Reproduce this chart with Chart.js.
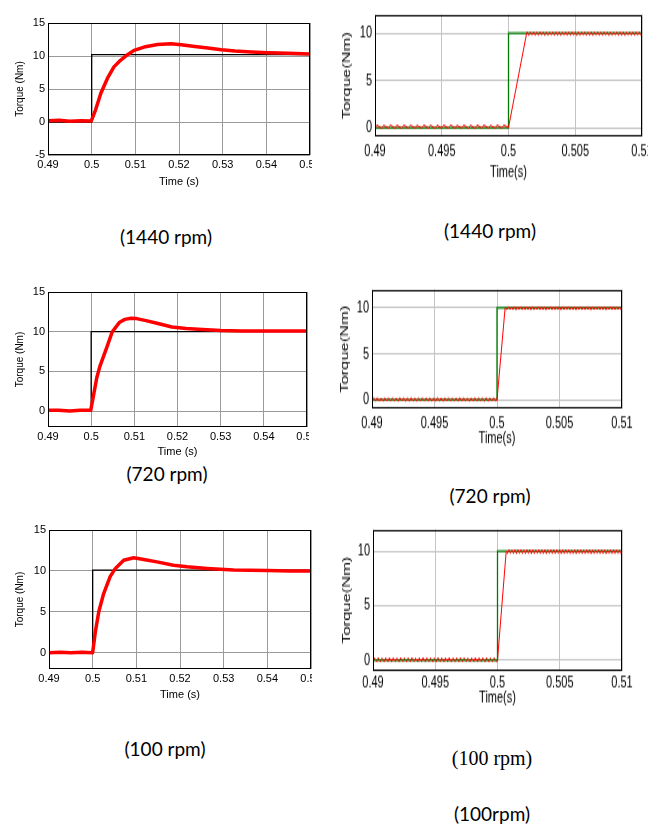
<!DOCTYPE html>
<html>
<head>
<meta charset="utf-8">
<script src="https://cdn.jsdelivr.net/npm/chart.js@4.4.0/dist/chart.umd.min.js"></script>
<style>
  body { margin: 0; background: #fff; width: 663px; height: 825px; position: relative; overflow: hidden; }
  .panel { position: absolute; overflow: hidden; }
  .panel canvas { position: absolute; left: 0; top: 0; transform-origin: 0 0; }
  .cap { position: absolute; transform: translate(-50%, -50%); white-space: nowrap;
         font-family: Lato, "Open Sans", sans-serif; font-size: 19px; color: #000; }
  .serif { font-family: "Liberation Serif", "DejaVu Serif", serif; font-size: 20px; }
</style>
</head>
<body>

<div class="cap" style="left:166px;top:236px">(1440 rpm)</div>
<div class="cap" style="left:490px;top:230px">(1440 rpm)</div>
<div class="cap" style="left:167px;top:473px">(720 rpm)</div>
<div class="cap" style="left:490px;top:495px">(720 rpm)</div>
<div class="cap" style="left:165px;top:748px">(100 rpm)</div>
<div class="cap serif" style="left:492px;top:758px">(100 rpm)</div>
<div class="cap" style="left:492px;top:813px">(100rpm)</div>

<script>
// ---- left column: 0.49 .. 0.55 s, thick noisy red response + black reference ----
const leftXTicks = [0.49, 0.5, 0.51, 0.52, 0.53, 0.54, 0.55];
const leftXLabels = ['0.49', '0.5', '0.51', '0.52', '0.53', '0.54', '0.55'];
const leftYTicksA = [-5, 0, 5, 10, 15];
const leftYTicksB = [0, 5, 10, 15];
const refTimeLeft = [0.49, 0.5, 0.5, 0.55];

// 1440 rpm
const p1Time = [0.49, 0.4925, 0.495, 0.4975, 0.4999, 0.5009, 0.5021, 0.5036, 0.5051, 0.5066, 0.5082, 0.5097,
  0.512, 0.5151, 0.5182, 0.5205, 0.5236, 0.5266, 0.5297, 0.5328, 0.5366, 0.5404, 0.545, 0.55];
const p1Torque = [0.2, 0.25, 0.1, 0.2, 0.15, 1.85, 4.35, 6.6, 8.35, 9.35, 10.2, 10.85,
  11.35, 11.75, 11.85, 11.7, 11.45, 11.2, 10.95, 10.75, 10.6, 10.5, 10.4, 10.3];
const p1Ref = [0, 0, 10.2, 10.2];

// 720 rpm
const p3Time = [0.49, 0.4925, 0.495, 0.4975, 0.4999, 0.5013, 0.502, 0.5036, 0.5049, 0.5066, 0.5078, 0.5092,
  0.5105, 0.5127, 0.515, 0.5187, 0.522, 0.5248, 0.53, 0.535, 0.54, 0.545, 0.55];
const p3Torque = [0.1, 0.1, 0.0, 0.1, 0.1, 4.2, 5.6, 8.0, 10.0, 11.2, 11.55, 11.7,
  11.65, 11.4, 11.1, 10.6, 10.4, 10.3, 10.15, 10.1, 10.1, 10.1, 10.1];
const p3Ref = [0, 0, 10, 10];

// 100 rpm
const p5Time = [0.49, 0.4925, 0.495, 0.4975, 0.5, 0.5006, 0.5014, 0.5025, 0.504, 0.5052, 0.5071, 0.5094,
  0.5117, 0.5147, 0.5185, 0.5216, 0.5262, 0.5323, 0.54, 0.545, 0.55];
const p5Torque = [0.0, 0.05, 0.0, 0.05, 0.0, 2.5, 5.0, 7.2, 9.3, 10.3, 11.3, 11.6,
  11.4, 11.1, 10.7, 10.5, 10.3, 10.1, 10.05, 10.0, 10.0];
const p5Ref = [0, 0, 10.1, 10.1];

// ---- right column: 0.49 .. 0.51 s, thin red rippled response + green reference ----
const rightXTicks = [0.49, 0.495, 0.5, 0.505, 0.51];
const rightXLabels = ['0.49', '0.495', '0.5', '0.505', '0.51'];
const rightYTicks = [0, 5, 10];
const refTimeRight = [0.49, 0.5, 0.5, 0.51];
const refTorqueRight = [0, 0, 10, 10];

// ripple before the step, 1440 rpm
const preTimeA = [0.49, 0.49015, 0.4905, 0.49065, 0.491, 0.49115, 0.4915, 0.49165, 0.492, 0.49215,
  0.4925, 0.49265, 0.493, 0.49315, 0.4935, 0.49365, 0.494, 0.49415, 0.4945, 0.49465,
  0.495, 0.49515, 0.4955, 0.49565, 0.496, 0.49615, 0.4965, 0.49665, 0.497, 0.49715,
  0.4975, 0.49765, 0.498, 0.49815, 0.4985, 0.49865, 0.499, 0.49915, 0.4995, 0.49965, 0.5];
const preTorqueA = [-0.05, 0.25, -0.08, 0.22, -0.04, 0.26, -0.06, 0.24, -0.08, 0.25,
  -0.05, 0.24, -0.04, 0.22, -0.06, 0.26, -0.05, 0.25, -0.08, 0.24,
  -0.05, 0.25, -0.06, 0.26, -0.04, 0.22, -0.05, 0.25, -0.06, 0.24,
  -0.08, 0.26, -0.05, 0.25, -0.04, 0.22, -0.06, 0.25, -0.05, 0.25, 0];

// ripple before the step, 720 and 100 rpm
const preTimeB = [0.49, 0.49012, 0.4903, 0.49042, 0.4906, 0.49072, 0.4909, 0.49102, 0.4912, 0.49132,
  0.4915, 0.49162, 0.4918, 0.49192, 0.4921, 0.49222, 0.4924, 0.49252, 0.4927, 0.49282,
  0.493, 0.49312, 0.4933, 0.49342, 0.4936, 0.49372, 0.4939, 0.49402, 0.4942, 0.49432,
  0.4945, 0.49462, 0.4948, 0.49492, 0.4951, 0.49522, 0.4954, 0.49552, 0.4957, 0.49582,
  0.496, 0.49612, 0.4963, 0.49642, 0.4966, 0.49672, 0.4969, 0.49702, 0.4972, 0.49732,
  0.4975, 0.49762, 0.4978, 0.49792, 0.4981, 0.49822, 0.4984, 0.49852, 0.4987, 0.49882,
  0.499, 0.49912, 0.4993, 0.49942, 0.4996, 0.49972, 0.4999, 0.5];
const preTorqueB = [-0.15, 0.2, -0.12, 0.22, -0.15, 0.18, -0.14, 0.2, -0.12, 0.22,
  -0.15, 0.2, -0.13, 0.18, -0.15, 0.22, -0.12, 0.2, -0.15, 0.2,
  -0.14, 0.22, -0.12, 0.18, -0.15, 0.2, -0.13, 0.22, -0.15, 0.2,
  -0.12, 0.2, -0.15, 0.18, -0.14, 0.22, -0.12, 0.2, -0.15, 0.2,
  -0.13, 0.22, -0.15, 0.18, -0.12, 0.2, -0.15, 0.22, -0.14, 0.2,
  -0.12, 0.18, -0.15, 0.2, -0.13, 0.22, -0.15, 0.2, -0.12, 0.2,
  -0.15, 0.22, -0.14, 0.18, -0.12, 0.2, -0.1, 0];

// ripple after the step (all speeds)
const postTime = [0.5008, 0.50092, 0.50104, 0.50116, 0.50128, 0.5014, 0.50152, 0.50164, 0.50176, 0.50188,
  0.502, 0.50212, 0.50224, 0.50236, 0.50248, 0.5026, 0.50272, 0.50284, 0.50296, 0.50308,
  0.5032, 0.50332, 0.50344, 0.50356, 0.50368, 0.5038, 0.50392, 0.50404, 0.50416, 0.50428,
  0.5044, 0.50452, 0.50464, 0.50476, 0.50488, 0.505, 0.50512, 0.50524, 0.50536, 0.50548,
  0.5056, 0.50572, 0.50584, 0.50596, 0.50608, 0.5062, 0.50632, 0.50644, 0.50656, 0.50668,
  0.5068, 0.50692, 0.50704, 0.50716, 0.50728, 0.5074, 0.50752, 0.50764, 0.50776, 0.50788,
  0.508, 0.50812, 0.50824, 0.50836, 0.50848, 0.5086, 0.50872, 0.50884, 0.50896, 0.50908,
  0.5092, 0.50932, 0.50944, 0.50956, 0.50968, 0.5098, 0.50992, 0.51];
const postTorque = [9.8, 10.15, 9.82, 10.12, 9.8, 10.15, 9.78, 10.14, 9.82, 10.15,
  9.8, 10.12, 9.8, 10.15, 9.82, 10.14, 9.78, 10.15, 9.8, 10.12,
  9.82, 10.15, 9.8, 10.14, 9.8, 10.15, 9.78, 10.12, 9.82, 10.15,
  9.8, 10.14, 9.8, 10.15, 9.82, 10.12, 9.78, 10.15, 9.8, 10.14,
  9.82, 10.15, 9.8, 10.12, 9.8, 10.15, 9.78, 10.14, 9.82, 10.15,
  9.8, 10.12, 9.8, 10.15, 9.82, 10.14, 9.78, 10.15, 9.8, 10.12,
  9.82, 10.15, 9.8, 10.14, 9.8, 10.15, 9.78, 10.12, 9.82, 10.15,
  9.8, 10.14, 9.8, 10.15, 9.82, 10.12, 9.8, 10.15];

// time where the red ramp reaches 10 Nm: 1440, 720, 100 rpm
const rampEnd = [0.50136, 0.50065, 0.5007];

Chart.defaults.font.family = "'Liberation Sans', Arial, sans-serif";
Chart.defaults.color = '#000';

function pts(xs, ys) {
  return xs.map((x, i) => ({ x: x, y: ys[i] }));
}

function rightSeries(preT, preV, end) {
  const out = pts(preT, preV);
  out.push({ x: end, y: 10 });
  postTime.forEach((t, i) => { if (t > end) out.push({ x: t, y: postTorque[i] }); });
  return out;
}

// black frame round the plot area
const frame = {
  id: 'frame',
  afterDatasetsDraw(chart) {
    const a = chart.chartArea, ctx = chart.ctx;
    ctx.save();
    ctx.strokeStyle = '#000';
    ctx.lineWidth = 1;
    const l = Math.round(a.left) + 0.5, t = Math.round(a.top) + 0.5;
    ctx.strokeRect(l, t, Math.round(a.right) - 1 - l + 0.5, Math.round(a.bottom) - 1 - t + 0.5);
    ctx.restore();
  }
};

// p: layout in page pixels, local to the panel box
function makePanel(p) {
  const sy = p.sy || 1;
  const H = Math.round(p.height / sy);
  const box = document.createElement('div');
  box.className = 'panel';
  box.style.left = p.left + 'px';
  box.style.top = p.top + 'px';
  box.style.width = p.clipWidth + 'px';
  box.style.height = (H * sy) + 'px';
  const cv = document.createElement('canvas');
  cv.width = p.canvasWidth;
  cv.height = H;
  if (sy !== 1) cv.style.transform = 'scaleY(' + sy + ')';
  box.appendChild(cv);
  document.body.appendChild(box);

  const tick = p.tickSize, xt = p.xTitleSize, yt = p.yTitleSize;
  const plotBottom = p.plotBottom / sy;

  new Chart(cv, {
    type: 'line',
    data: { datasets: p.datasets },
    options: {
      responsive: false,
      animation: false,
      events: [],
      layout: { padding: { top: p.plotTop / sy, right: p.canvasWidth - p.plotRight, bottom: 0, left: 0 } },
      plugins: { legend: { display: false }, tooltip: { enabled: false } },
      elements: { point: { radius: 0 }, line: { tension: 0 } },
      scales: {
        x: {
          type: 'linear', min: p.xTicks[0], max: p.xTicks[p.xTicks.length - 1],
          afterBuildTicks: s => { s.ticks = p.xTicks.map(v => ({ value: v })); },
          afterFit: s => { s.height = H - plotBottom; },
          grid: { color: p.gridColor, drawTicks: false },
          border: { display: false },
          ticks: {
            autoSkip: false, maxRotation: 0, font: { size: tick },
            padding: p.xLabelY / sy - plotBottom - 0.6 * tick,
            callback: (v, i) => p.xLabels[i]
          },
          title: {
            display: true, text: p.xTitle, font: { size: xt },
            padding: { top: 0, bottom: H - p.xTitleY / sy - 0.6 * xt }
          }
        },
        y: {
          min: p.yMin, max: p.yMax,
          afterBuildTicks: s => { s.ticks = p.yTicks.map(v => ({ value: v })); },
          afterFit: s => { s.width = p.plotLeft; },
          grid: { color: p.gridColor, drawTicks: false },
          border: { display: false },
          ticks: { font: { size: tick }, padding: 3, callback: v => String(v) },
          title: {
            display: true, text: p.yTitle, font: { size: yt },
            padding: { top: p.yTitleX - 0.6 * yt, bottom: 0 }
          }
        }
      }
    },
    plugins: [frame]
  });
}

function leftSets(t, v, ref) {
  return [
    { data: pts(t, v), borderColor: '#ff0000', borderWidth: 3.5, borderJoinStyle: 'round', order: 0 },
    { data: pts(refTimeLeft, ref), borderColor: '#000000', borderWidth: 1.3, order: 1 }
  ];
}

function rightSets(preT, preV, end) {
  return [
    { data: rightSeries(preT, preV, end), borderColor: '#ff0000', borderWidth: 1, order: 0 },
    { data: pts(refTimeRight, refTorqueRight), borderColor: '#007a00', borderWidth: 1.3, order: 1 }
  ];
}

const leftCommon = {
  canvasWidth: 340, tickSize: 11, xTitleSize: 11, yTitleSize: 10,
  xTicks: leftXTicks, xLabels: leftXLabels, xTitle: 'Time (s)', yTitle: 'Torque (Nm)',
  gridColor: '#9a9a9a', yMax: 15
};
const rightCommon = {
  sy: 1.5, tickSize: 11, xTitleSize: 11, yTitleSize: 11,
  xTicks: rightXTicks, xLabels: rightXLabels, yTicks: rightYTicks,
  xTitle: 'Time(s)', yTitle: 'Torque(Nm)', gridColor: '#c4c4c4', yMin: -1, yMax: 12
};

makePanel(Object.assign({}, leftCommon, {
  left: 0, top: 0, clipWidth: 312, height: 200,
  plotLeft: 48, plotRight: 310, plotTop: 23, plotBottom: 155,
  xLabelY: 165, xTitleY: 182, yTitleX: 20, yMin: -5, yTicks: leftYTicksA,
  datasets: leftSets(p1Time, p1Torque, p1Ref)
}));
makePanel(Object.assign({}, leftCommon, {
  left: 0, top: 280, clipWidth: 309, height: 180,
  plotLeft: 48, plotRight: 307, plotTop: 12, plotBottom: 147,
  xLabelY: 157, xTitleY: 172, yTitleX: 20, yMin: -2, yTicks: leftYTicksB,
  datasets: leftSets(p3Time, p3Torque, p3Ref)
}));
makePanel(Object.assign({}, leftCommon, {
  left: 0, top: 518, clipWidth: 312, height: 190,
  plotLeft: 49, plotRight: 311, plotTop: 12, plotBottom: 151,
  xLabelY: 161, xTitleY: 177, yTitleX: 20, yMin: -2, yTicks: leftYTicksB,
  datasets: leftSets(p5Time, p5Torque, p5Ref)
}));

makePanel(Object.assign({}, rightCommon, {
  left: 330, top: 0, clipWidth: 318, canvasWidth: 340, height: 190.5,
  plotLeft: 45, plotRight: 312, plotTop: 9, plotBottom: 137,
  xLabelY: 152, xTitleY: 172, yTitleX: 17,
  datasets: rightSets(preTimeA, preTorqueA, rampEnd[0])
}));
makePanel(Object.assign({}, rightCommon, {
  left: 330, top: 275, clipWidth: 333, canvasWidth: 333, height: 175.5,
  plotLeft: 42, plotRight: 292, plotTop: 10, plotBottom: 134,
  xLabelY: 148, xTitleY: 164, yTitleX: 15,
  datasets: rightSets(preTimeB, preTorqueB, rampEnd[1])
}));
makePanel(Object.assign({}, rightCommon, {
  left: 330, top: 515, clipWidth: 333, canvasWidth: 333, height: 195,
  plotLeft: 43, plotRight: 292, plotTop: 9, plotBottom: 156,
  xLabelY: 168, xTitleY: 183, yTitleX: 17,
  datasets: rightSets(preTimeB, preTorqueB, rampEnd[2])
}));
</script>
</body>
</html>
